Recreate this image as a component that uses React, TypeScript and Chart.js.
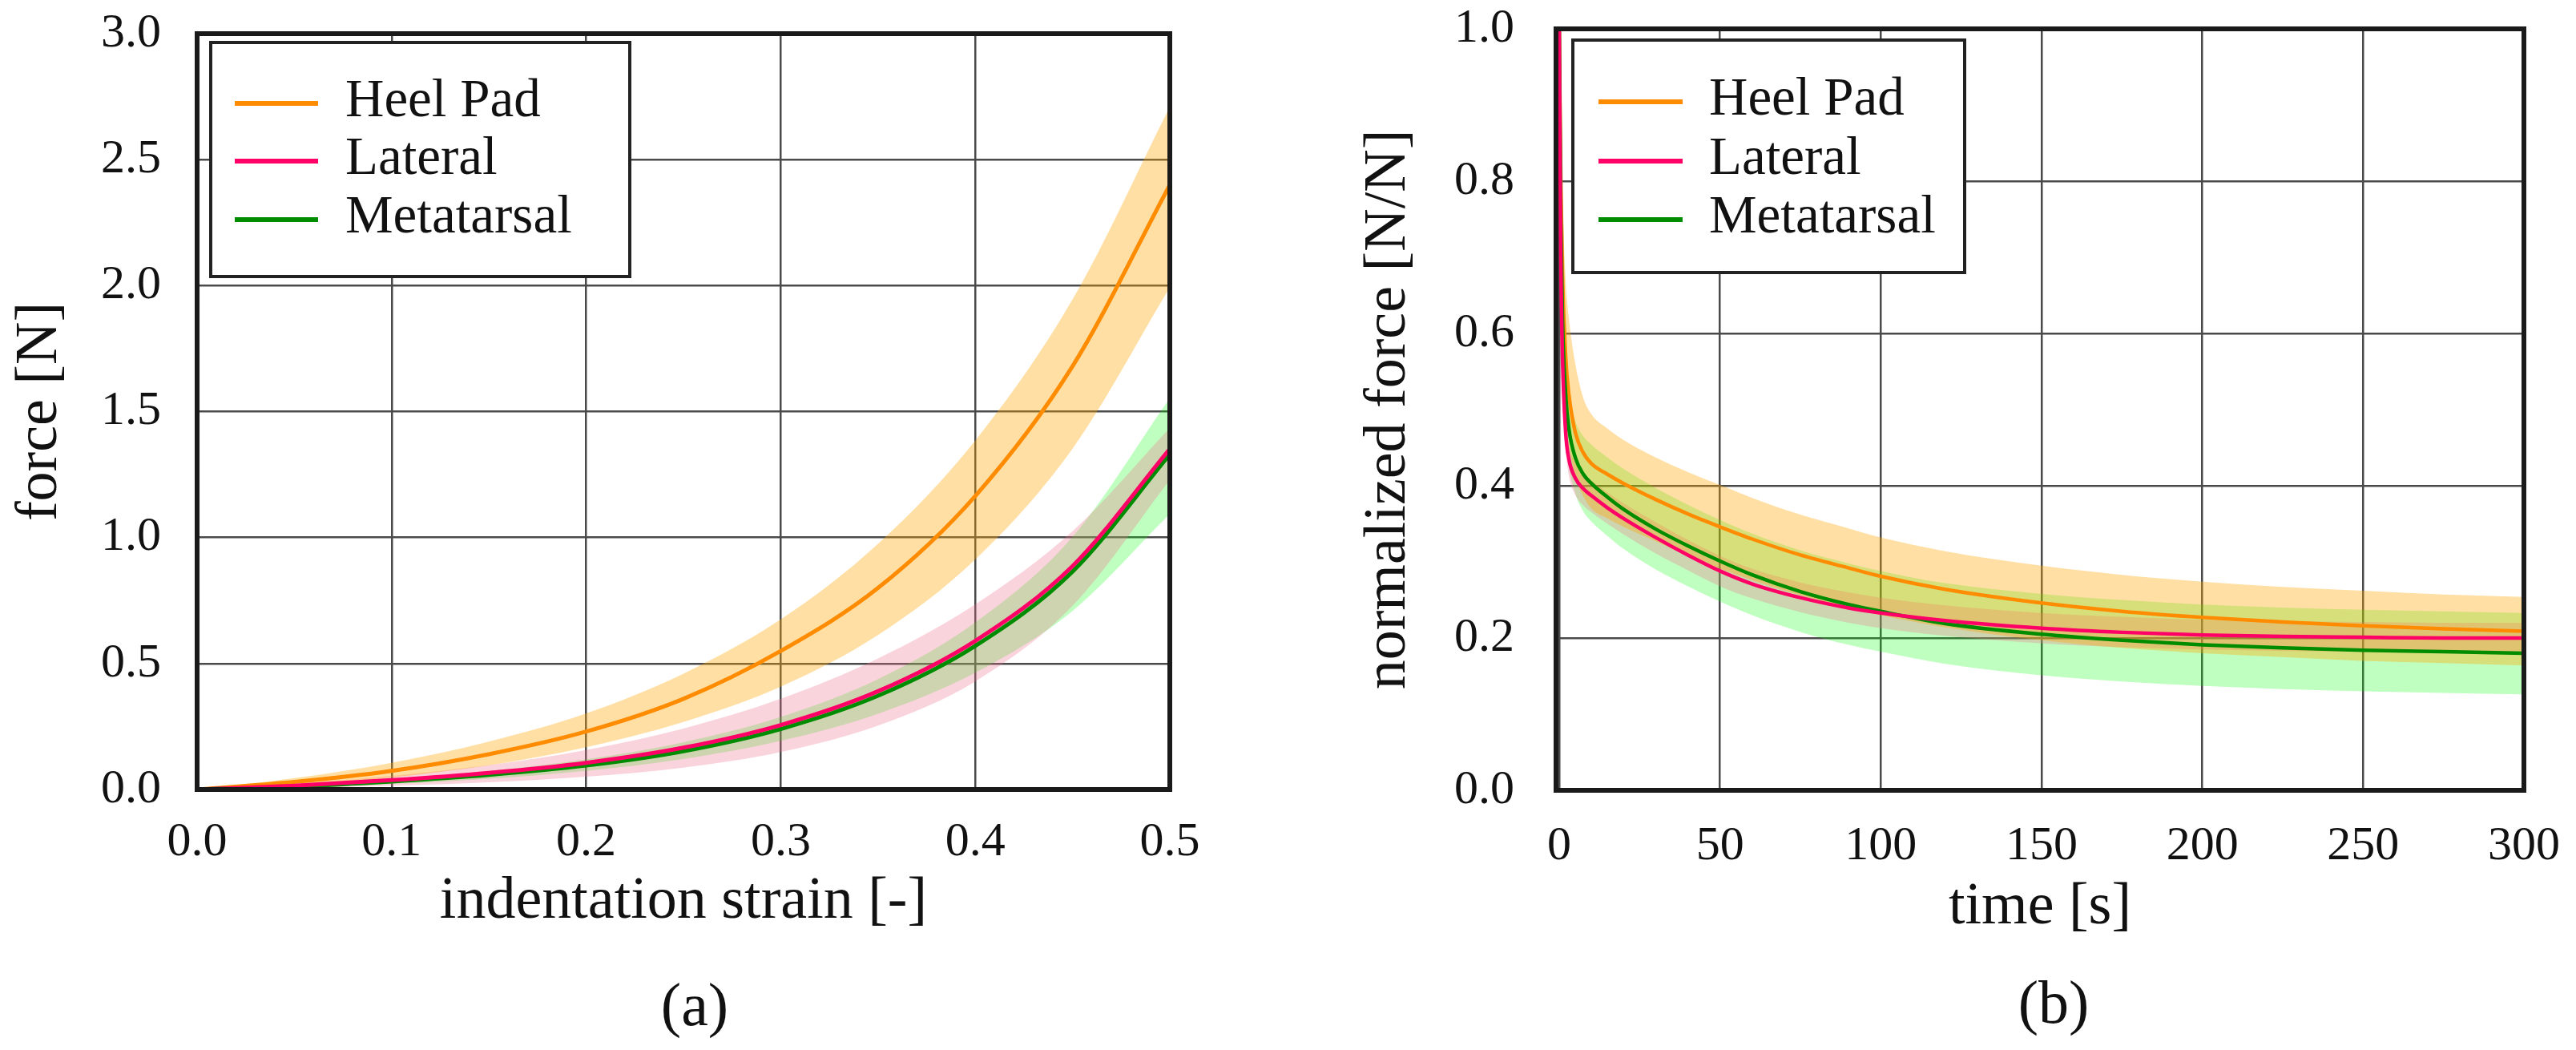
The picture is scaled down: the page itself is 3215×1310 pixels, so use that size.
import { useEffect, useRef } from "react";
import { Chart, registerables } from "chart.js";

Chart.register(...registerables);

const FONT = "'Liberation Serif', 'Times New Roman', serif";

// (a) force vs indentation strain
const strain = [0, 0.05, 0.1, 0.15, 0.2, 0.25, 0.3, 0.35, 0.4, 0.45, 0.5];
const heelForce = [0, 0.03, 0.074, 0.14, 0.23, 0.36, 0.55, 0.8, 1.165, 1.68, 2.4];
const heelForceHigh = [0, 0.045, 0.106, 0.19, 0.302, 0.46, 0.675, 0.975, 1.385, 1.945, 2.71];
const heelForceLow = [0, 0.018, 0.048, 0.096, 0.168, 0.268, 0.408, 0.613, 0.913, 1.353, 1.993];
const lateralForce = [0, 0.015, 0.037, 0.066, 0.106, 0.166, 0.256, 0.39, 0.59, 0.887, 1.352];
const lateralForceHigh = [0, 0.022, 0.054, 0.097, 0.157, 0.242, 0.36, 0.52, 0.735, 1.025, 1.435];
const lateralForceLow = [0, 0.006, 0.015, 0.029, 0.051, 0.087, 0.149, 0.254, 0.429, 0.729, 1.229];
const metaForce = [0, 0.012, 0.032, 0.058, 0.095, 0.152, 0.24, 0.372, 0.57, 0.865, 1.33];
const metaForceHigh = [0, 0.016, 0.04, 0.073, 0.12, 0.188, 0.288, 0.438, 0.663, 1.003, 1.553];
const metaForceLow = [0, 0.008, 0.022, 0.043, 0.074, 0.121, 0.193, 0.301, 0.464, 0.709, 1.094];

// (b) normalized force vs time
const time = [0, 0.5, 1, 2, 3, 5, 7.5, 10, 15, 20, 30, 40, 50, 60, 75, 90, 100, 120, 150, 175, 200, 225, 250, 275, 300];
const heelRelax = [1, 0.8, 0.68, 0.57, 0.52, 0.47, 0.443, 0.429, 0.415, 0.403, 0.382, 0.363, 0.346, 0.33, 0.309, 0.292, 0.281, 0.264, 0.246, 0.235, 0.227, 0.221, 0.216, 0.212, 0.209];
const heelRelaxHigh = [1, 0.88, 0.78, 0.67, 0.62, 0.56, 0.515, 0.494, 0.475, 0.46, 0.437, 0.418, 0.401, 0.384, 0.362, 0.344, 0.332, 0.314, 0.295, 0.283, 0.274, 0.267, 0.262, 0.257, 0.254];
const heelRelaxLow = [1, 0.74, 0.6, 0.5, 0.455, 0.412, 0.386, 0.37, 0.357, 0.346, 0.327, 0.308, 0.291, 0.276, 0.256, 0.24, 0.23, 0.214, 0.197, 0.187, 0.18, 0.175, 0.17, 0.167, 0.164];
const lateralRelax = [1, 0.7, 0.57, 0.47, 0.435, 0.41, 0.396, 0.387, 0.371, 0.357, 0.332, 0.309, 0.288, 0.271, 0.253, 0.2395, 0.233, 0.223, 0.213, 0.2075, 0.204, 0.202, 0.201, 0.2, 0.2];
const lateralRelaxHigh = [1, 0.72, 0.59, 0.49, 0.455, 0.43, 0.416, 0.407, 0.391, 0.377, 0.352, 0.329, 0.308, 0.291, 0.273, 0.26, 0.253, 0.243, 0.233, 0.228, 0.224, 0.222, 0.221, 0.22, 0.22];
const lateralRelaxLow = [1, 0.68, 0.55, 0.45, 0.413, 0.388, 0.374, 0.365, 0.35, 0.336, 0.311, 0.289, 0.268, 0.252, 0.234, 0.22, 0.213, 0.203, 0.193, 0.188, 0.185, 0.183, 0.182, 0.181, 0.181];
const metaRelax = [1, 0.75, 0.62, 0.52, 0.475, 0.437, 0.415, 0.403, 0.385, 0.369, 0.343, 0.321, 0.301, 0.283, 0.261, 0.244, 0.235, 0.219, 0.205, 0.197, 0.191, 0.187, 0.184, 0.182, 0.18];
const metaRelaxHigh = [1, 0.8, 0.67, 0.568, 0.522, 0.485, 0.465, 0.454, 0.437, 0.422, 0.397, 0.375, 0.355, 0.337, 0.315, 0.298, 0.288, 0.272, 0.258, 0.25, 0.244, 0.24, 0.237, 0.235, 0.233];
const metaRelaxLow = [1, 0.7, 0.57, 0.472, 0.428, 0.39, 0.366, 0.353, 0.334, 0.317, 0.29, 0.268, 0.248, 0.23, 0.208, 0.191, 0.182, 0.166, 0.151, 0.143, 0.137, 0.133, 0.13, 0.128, 0.126];

const strainTicks = [0, 0.1, 0.2, 0.3, 0.4, 0.5];
const forceTicks = [0, 0.5, 1, 1.5, 2, 2.5, 3];
const timeTicks = [0, 50, 100, 150, 200, 250, 300];
const relaxTicks = [0, 0.2, 0.4, 0.6, 0.8, 1];

const seriesNames = ["Heel Pad", "Lateral", "Metatarsal"];
const lineColors = ["#ff8c00", "#ff0066", "#008c00"];
const bandColors = ["rgba(255,165,0,0.36)", "rgba(238,112,138,0.3)", "rgba(0,255,0,0.25)"];
const lineOrder = [3, 1, 2];

const CANVAS_H = 1310;

function series(xs: number[], rows: number[][][], lineWidth: number) {
  const pts = (ys: number[]) => xs.map((x, k) => ({ x, y: ys[k] }));
  const sets: any[] = [];
  rows.forEach(([mean, high, low], i) => {
    const base = sets.length;
    sets.push({
      label: seriesNames[i] + " upper",
      data: pts(high),
      borderColor: "rgba(0,0,0,0)",
      borderWidth: 0,
      pointRadius: 0,
      fill: false,
      order: 10,
    });
    sets.push({
      label: seriesNames[i] + " lower",
      data: pts(low),
      borderColor: "rgba(0,0,0,0)",
      borderWidth: 0,
      pointRadius: 0,
      backgroundColor: bandColors[i],
      fill: { target: base },
      order: 10,
    });
    sets.push({
      label: seriesNames[i],
      data: pts(mean),
      borderColor: lineColors[i],
      borderWidth: lineWidth,
      pointRadius: 0,
      fill: false,
      order: lineOrder[i],
      isMean: true,
    });
  });
  return sets;
}

const framePlugin = {
  id: "frame",
  afterDatasetsDraw(chart: any) {
    const { ctx, chartArea: a } = chart;
    ctx.save();
    ctx.strokeStyle = "#1a1a1a";
    ctx.lineWidth = 6;
    ctx.strokeRect(a.left, a.top, a.right - a.left, a.bottom - a.top);
    ctx.restore();
  },
};

const boxLegendPlugin = {
  id: "boxLegend",
  afterDraw(chart: any, _args: any, opts: any) {
    const { ctx, chartArea: a } = chart;
    const x = a.left + opts.dx;
    const y = a.top + opts.dy;
    ctx.save();
    ctx.fillStyle = "#ffffff";
    ctx.fillRect(x, y, opts.width, opts.height);
    ctx.strokeStyle = "#222";
    ctx.lineWidth = 4;
    ctx.strokeRect(x, y, opts.width, opts.height);
    ctx.font = `${opts.fontSize}px ${FONT}`;
    ctx.textBaseline = "alphabetic";
    ctx.textAlign = "left";
    const means = chart.data.datasets.filter((d: any) => d.isMean);
    means.forEach((d: any, i: number) => {
      const base = y + opts.baselines[i];
      ctx.strokeStyle = d.borderColor;
      ctx.lineWidth = 6;
      ctx.beginPath();
      ctx.moveTo(x + opts.lineStart, base - 16);
      ctx.lineTo(x + opts.lineEnd, base - 16);
      ctx.stroke();
      ctx.fillStyle = "#111";
      ctx.fillText(d.label, x + opts.textX, base);
    });
    ctx.restore();
  },
};

function buildConfig(p: any): any {
  return {
    type: "line",
    data: { datasets: p.datasets },
    plugins: [framePlugin, boxLegendPlugin],
    options: {
      animation: false,
      responsive: false,
      devicePixelRatio: 1,
      events: [],
      elements: { line: { cubicInterpolationMode: "monotone", tension: 0 } },
      layout: { padding: { top: p.padTop, right: p.padRight, left: 0, bottom: 0 } },
      plugins: {
        legend: { display: false },
        tooltip: { enabled: false },
        filler: { propagate: false },
        boxLegend: p.legend,
      },
      scales: {
        x: {
          type: "linear",
          min: p.xMin,
          max: p.xTicks[p.xTicks.length - 1],
          afterFit: (s: any) => {
            s.height = p.xAxisHeight;
            s.paddingLeft = 0;
            s.paddingRight = 0;
          },
          afterBuildTicks: (s: any) => {
            s.ticks = p.xTicks.map((v: number) => ({ value: v }));
          },
          grid: { color: "#4a4a4a", lineWidth: 2.5, drawTicks: false },
          border: { display: false },
          ticks: {
            padding: p.xTickPad,
            color: "#111",
            font: { family: FONT, size: 60 },
            maxRotation: 0,
            callback: p.xFormat,
          },
          title: {
            display: true,
            text: p.xTitle,
            color: "#111",
            font: { family: FONT, size: 74 },
            padding: { top: 0, bottom: p.xTitlePad },
          },
        },
        y: {
          type: "linear",
          min: p.yTicks[0],
          max: p.yTicks[p.yTicks.length - 1],
          afterFit: (s: any) => {
            s.width = p.yAxisWidth;
            s.paddingTop = 0;
            s.paddingBottom = 0;
          },
          afterBuildTicks: (s: any) => {
            s.ticks = p.yTicks.map((v: number) => ({ value: v }));
          },
          grid: { color: "#4a4a4a", lineWidth: 2.5, drawTicks: false },
          border: { display: false },
          ticks: {
            padding: p.yTickPad,
            color: "#111",
            font: { family: FONT, size: 60 },
            callback: (v: any) => Number(v).toFixed(1),
          },
          title: {
            display: true,
            text: p.yTitle,
            color: "#111",
            font: { family: FONT, size: 74 },
            padding: { top: p.yTitlePad, bottom: 0 },
          },
        },
      },
    },
  };
}

function Panel({ left, width, config }: { left: number; width: number; config: () => any }) {
  const canvasRef = useRef<HTMLCanvasElement | null>(null);
  useEffect(() => {
    if (!canvasRef.current) return;
    const chart = new Chart(canvasRef.current, config());
    return () => {
      chart.destroy();
    };
  }, []);
  return (
    <canvas
      ref={canvasRef}
      width={width}
      height={CANVAS_H}
      style={{ position: "absolute", left, top: 0, width, height: CANVAS_H }}
    />
  );
}

const captionStyle = (x: number, y: number): React.CSSProperties => ({
  position: "absolute",
  left: x,
  top: y,
  transform: "translate(-50%, -50%)",
  fontFamily: FONT,
  fontSize: 76,
  lineHeight: 1,
  color: "#111",
});

export default function App() {
  useEffect(() => {
    document.body.style.margin = "0";
  }, []);

  const configA = () =>
    buildConfig({
      datasets: series(
        strain,
        [
          [heelForce, heelForceHigh, heelForceLow],
          [lateralForce, lateralForceHigh, lateralForceLow],
          [metaForce, metaForceHigh, metaForceLow],
        ],
        5
      ),
      xMin: 0,
      xTicks: strainTicks,
      yTicks: forceTicks,
      xFormat: (v: any) => Number(v).toFixed(1),
      xTitle: "indentation strain [-]",
      yTitle: "force [N]",
      padTop: 42,
      padRight: 140,
      yAxisWidth: 246,
      xAxisHeight: CANVAS_H - 985,
      xTickPad: 30,
      yTickPad: 45,
      xTitlePad: 140,
      yTitlePad: 6,
      legend: {
        dx: 17,
        dy: 11,
        width: 523,
        height: 292,
        lineStart: 30,
        lineEnd: 134,
        textX: 168,
        fontSize: 67,
        baselines: [92, 164, 237],
      },
    });

  const configB = () =>
    buildConfig({
      datasets: series(
        time,
        [
          [heelRelax, heelRelaxHigh, heelRelaxLow],
          [lateralRelax, lateralRelaxHigh, lateralRelaxLow],
          [metaRelax, metaRelaxHigh, metaRelaxLow],
        ],
        4.5
      ),
      xMin: -1,
      xTicks: timeTicks,
      yTicks: relaxTicks,
      xFormat: (v: any) => String(Math.round(Number(v))),
      xTitle: "time [s]",
      yTitle: "normalized force [N/N]",
      padTop: 36,
      padRight: 65,
      yAxisWidth: 342,
      xAxisHeight: CANVAS_H - 986,
      xTickPad: 34,
      yTickPad: 52,
      xTitlePad: 133,
      yTitlePad: 89,
      legend: {
        dx: 21,
        dy: 14,
        width: 489,
        height: 290,
        lineStart: 32,
        lineEnd: 137,
        textX: 170,
        fontSize: 67,
        baselines: [93, 167, 240],
      },
    });

  return (
    <div style={{ position: "relative", width: 3215, height: CANVAS_H, background: "#fff", overflow: "hidden" }}>
      <Panel left={0} width={1600} config={configA} />
      <Panel left={1600} width={1615} config={configB} />
      <div style={captionStyle(867, 1253)}>(a)</div>
      <div style={captionStyle(2563, 1250)}>(b)</div>
    </div>
  );
}
